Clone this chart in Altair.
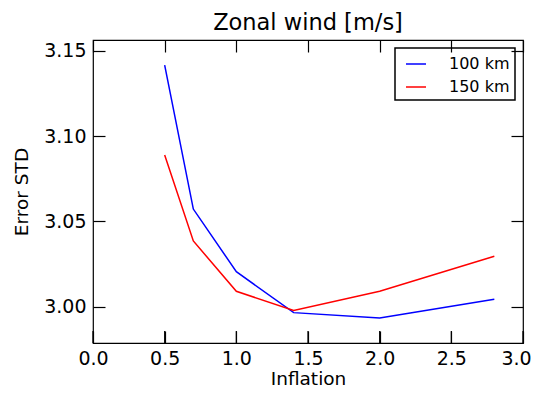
import altair as alt
import pandas as pd

inflation = [0.5, 0.7, 1.0, 1.4, 2.0, 2.8]
std_100km = [3.1416, 3.0572, 3.0205, 2.9965, 2.9933, 3.0044]
std_150km = [3.0889, 3.0385, 3.0090, 2.9978, 3.0090, 3.0296]
series_names = ["100 km", "150 km"]
series_colors = ["#0000ff", "#ff0000"]
x_ticks = [0.0, 0.5, 1.0, 1.5, 2.0, 2.5, 3.0]
y_ticks = [3.00, 3.05, 3.10, 3.15]
x_domain = [0.0, 3.0]
y_domain = [2.9787, 3.1563]

rows = []
for name, vals in zip(series_names, [std_100km, std_150km]):
    for xv, yv in zip(inflation, vals):
        rows.append({"x": xv, "y": yv, "series": name})
df = pd.DataFrame(rows)
tick_df = pd.DataFrame({"x": x_ticks})

FONT = "DejaVu Sans"
TICK = 12
W, H = 430, 303

xs = alt.Scale(domain=x_domain, nice=False, zero=False)
ys = alt.Scale(domain=y_domain, nice=False, zero=False)

bottom_axis = alt.Axis(orient="bottom", values=x_ticks, format=".1f", offset=-TICK,
                       tickSize=TICK, labelPadding=6, titlePadding=1,
                       labelFlush=False, zindex=2,
                       labelOffset={"condition": {"test": "datum.value >= 3", "value": -7},
                                    "value": 0})
left_axis = alt.Axis(orient="left", values=y_ticks, format=".2f", offset=-TICK,
                     tickSize=TICK, labelPadding=7, titlePadding=12, zindex=2)
top_axis = alt.Axis(orient="top", values=x_ticks, offset=-TICK, tickSize=TICK,
                    labels=False, zindex=2)
right_axis = alt.Axis(orient="right", values=y_ticks, offset=-TICK, tickSize=TICK,
                      labels=False, zindex=2)

base = alt.Chart(df)

main = base.mark_line(strokeWidth=1.5).encode(
    x=alt.X("x:Q", scale=xs, axis=bottom_axis, title="Inflation"),
    y=alt.Y("y:Q", scale=ys, axis=left_axis, title="Error STD"),
    color=alt.Color("series:N",
                    scale=alt.Scale(domain=series_names, range=series_colors),
                    legend=alt.Legend(title=None, orient="top-right", offset=8,
                                      padding=5, strokeColor="black", fillColor="white",
                                      symbolType="stroke", symbolSize=400,
                                      symbolOffset=5,
                                      symbolStrokeWidth=1.5, labelFontSize=16,
                                      labelFont=FONT, labelColor="black",
                                      labelOffset=22, rowPadding=4)),
)

frame = base.mark_line(opacity=0).encode(
    x=alt.X("x:Q", scale=xs, axis=top_axis, title=None),
    y=alt.Y("y:Q", scale=ys, axis=right_axis, title=None),
    detail="series:N",
)

bottom_ticks = alt.Chart(tick_df).mark_rule(color="black", strokeWidth=1.2).encode(
    x=alt.X("x:Q", scale=xs, axis=None),
    y=alt.value(H - TICK),
    y2=alt.value(H),
)

chart = alt.layer(main, frame, bottom_ticks).resolve_scale(
    x="independent", y="independent"
).properties(
    width=W,
    height=H,
    padding={"left": 85, "top": 32, "right": 8, "bottom": 50},
    autosize=alt.AutoSizeParams(type="none"),
    title=alt.TitleParams("Zonal wind [m/s]", fontSize=22.5, font=FONT,
                          fontWeight="normal", color="black", offset=5, anchor="middle"),
).configure_view(stroke="black", strokeWidth=1.2).configure_axis(
    grid=False, domain=False, tickColor="black", tickWidth=1.2,
    labelFont=FONT, labelFontSize=19, labelColor="black",
    titleFont=FONT, titleFontSize=18.5, titleColor="black", titleFontWeight="normal",
).configure_legend(strokeWidth=1.5)

chart.save("out.html", embed_options={"renderer": "svg", "actions": False})
